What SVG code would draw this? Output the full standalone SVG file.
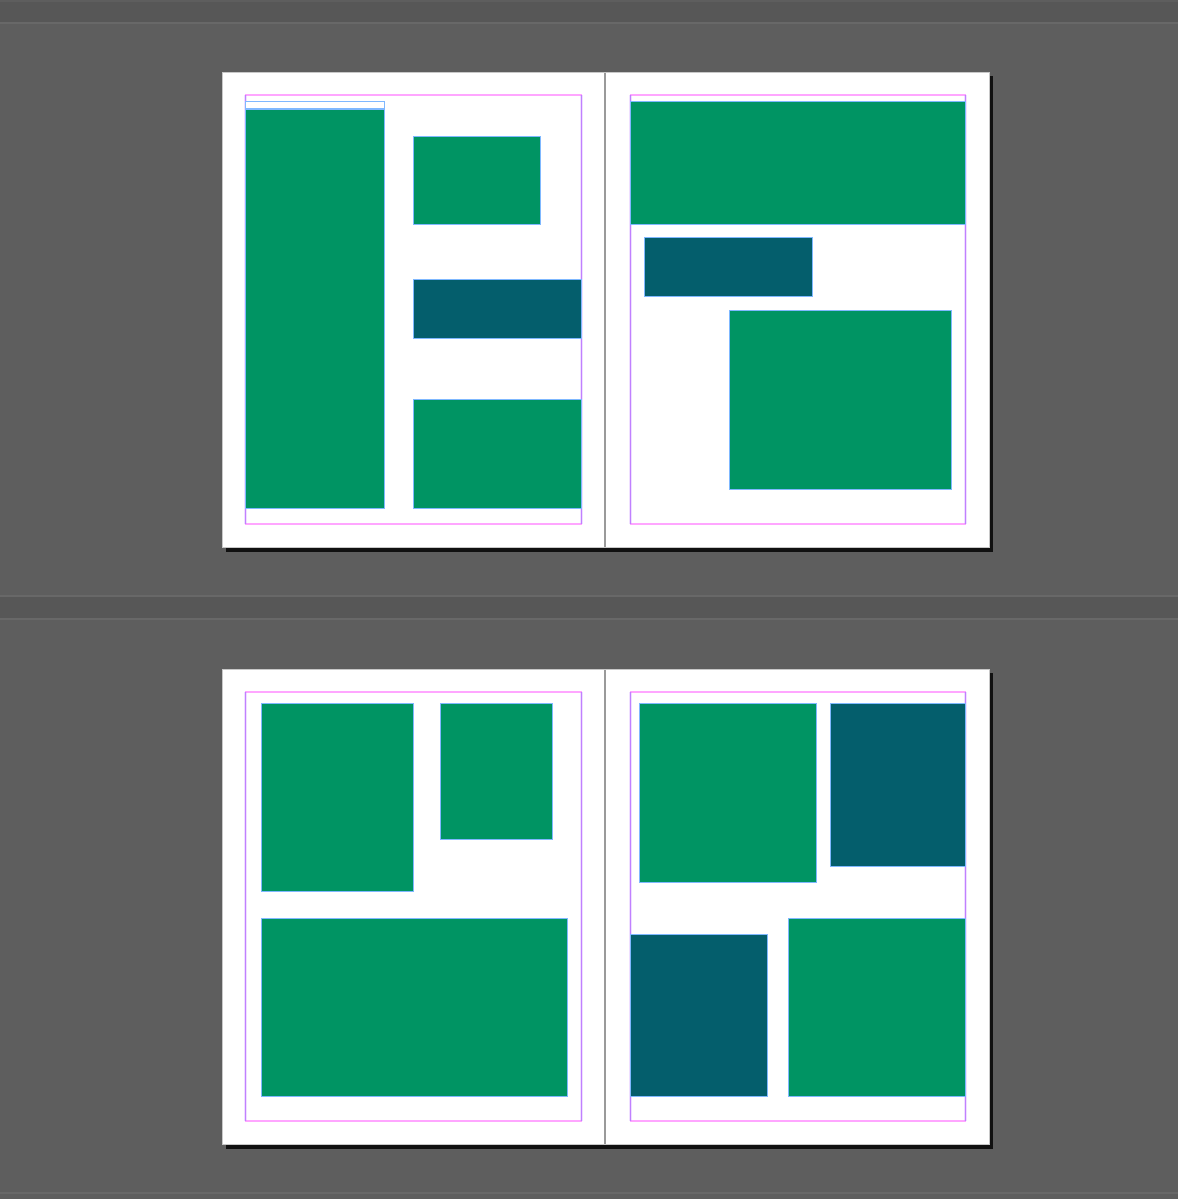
<svg xmlns="http://www.w3.org/2000/svg" width="1178" height="1199" viewBox="0 0 1178 1199">
<style>
.page{fill:#ffffff;stroke:#c8c8c8;stroke-width:1}
.shadow{fill:#111111}
.spine{stroke:#9a9a9a;stroke-width:2}
.mh{stroke:#ff88ff;stroke-width:1.5}
.mv{stroke:#c080ff;stroke-width:1.5}
.g{fill:#009463;stroke:#7fb8ff;stroke-width:1}
.t{fill:#045e6c;stroke:#7fb8ff;stroke-width:1}
.band{fill:#575757}
.hl{stroke:#686868;stroke-width:2}
</style>
<rect x="0" y="0" width="1178" height="1199" fill="#5e5e5e"/>
<rect class="band" x="0" y="2" width="1178" height="20"/>
<line class="hl" x1="0" y1="23" x2="1178" y2="23"/>
<rect class="band" x="0" y="597" width="1178" height="21"/>
<line class="hl" x1="0" y1="596" x2="1178" y2="596"/>
<line class="hl" x1="0" y1="619" x2="1178" y2="619"/>
<line class="hl" x1="0" y1="1193" x2="1178" y2="1193"/>

<g id="spread1">
<rect class="shadow" x="226" y="76" width="767" height="476"/>
<rect class="page" x="222.5" y="72.5" width="767" height="475"/>
<line class="spine" x1="605" y1="73" x2="605" y2="547"/>
<line class="mh" x1="245" y1="95" x2="582" y2="95"/>
<line class="mh" x1="245" y1="524" x2="582" y2="524"/>
<line class="mv" x1="245.5" y1="95" x2="245.5" y2="524"/>
<line class="mv" x1="581.5" y1="95" x2="581.5" y2="524"/>
<line class="mh" x1="630" y1="95" x2="966" y2="95"/>
<line class="mh" x1="630" y1="524" x2="966" y2="524"/>
<line class="mv" x1="630.5" y1="95" x2="630.5" y2="524"/>
<line class="mv" x1="965.5" y1="95" x2="965.5" y2="524"/>
<rect x="245.5" y="101.5" width="139" height="7" fill="#ffffff" stroke="#7fb8ff" stroke-width="1"/>
<rect class="g" x="245.5" y="109.5" width="139" height="399"/>
<rect class="g" x="413.5" y="136.5" width="127" height="88"/>
<rect class="t" x="413.5" y="279.5" width="168" height="59"/>
<rect class="g" x="413.5" y="399.5" width="168" height="109"/>
<rect class="g" x="630.5" y="101.5" width="335" height="123"/>
<rect class="t" x="644.5" y="237.5" width="168" height="59"/>
<rect class="g" x="729.5" y="310.5" width="222" height="179"/>
</g>

<g id="spread2">
<rect class="shadow" x="226" y="673" width="767" height="476"/>
<rect class="page" x="222.5" y="669.5" width="767" height="475"/>
<line class="spine" x1="605" y1="670" x2="605" y2="1144"/>
<line class="mh" x1="245" y1="692" x2="582" y2="692"/>
<line class="mh" x1="245" y1="1121" x2="582" y2="1121"/>
<line class="mv" x1="245.5" y1="692" x2="245.5" y2="1121"/>
<line class="mv" x1="581.5" y1="692" x2="581.5" y2="1121"/>
<line class="mh" x1="630" y1="692" x2="966" y2="692"/>
<line class="mh" x1="630" y1="1121" x2="966" y2="1121"/>
<line class="mv" x1="630.5" y1="692" x2="630.5" y2="1121"/>
<line class="mv" x1="965.5" y1="692" x2="965.5" y2="1121"/>
<rect class="g" x="261.5" y="703.5" width="152" height="188"/>
<rect class="g" x="440.5" y="703.5" width="112" height="136"/>
<rect class="g" x="261.5" y="918.5" width="306" height="178"/>
<rect class="g" x="639.5" y="703.5" width="177" height="179"/>
<rect class="t" x="830.5" y="703.5" width="135" height="163"/>
<rect class="t" x="630.5" y="934.5" width="137" height="162"/>
<rect class="g" x="788.5" y="918.5" width="177" height="178"/>
</g>
</svg>
